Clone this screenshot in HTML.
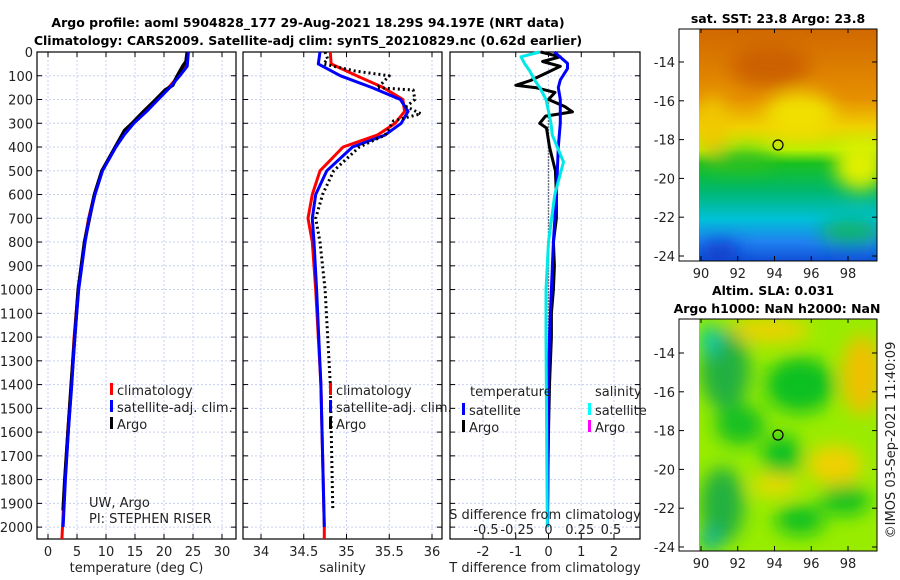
<!DOCTYPE html>
<html><head><meta charset="utf-8"><style>
html,body{margin:0;padding:0;background:#fff}
svg{display:block;font-family:"DejaVu Sans","Liberation Sans",sans-serif}
.t{font-size:13px;fill:#222}
.b{font-weight:bold;font-size:12.5px;fill:#000}
</style></head><body>
<svg id="c" width="900" height="580" viewBox="0 0 900 580">
<defs>
<filter id="bl" x="-50%" y="-50%" width="200%" height="200%"><feGaussianBlur stdDeviation="9"/></filter>
<linearGradient id="sst" x1="0" y1="0" x2="0" y2="1">
<stop offset="0" stop-color="#d06800"/><stop offset="0.3" stop-color="#e69000"/>
<stop offset="0.42" stop-color="#f0d000"/><stop offset="0.52" stop-color="#b8f000"/>
<stop offset="0.58" stop-color="#18c020"/><stop offset="0.7" stop-color="#00b870"/>
<stop offset="0.82" stop-color="#00c0d8"/><stop offset="0.92" stop-color="#2080f0"/>
<stop offset="1" stop-color="#1050d8"/></linearGradient>
<clipPath id="m1"><rect x="699" y="29" width="178" height="232"/></clipPath>
<clipPath id="m2"><rect x="699" y="319" width="178" height="232"/></clipPath>
</defs>
<text class="b" x="308" y="27" text-anchor="middle">Argo profile: aoml 5904828_177 29-Aug-2021 18.29S 94.197E (NRT data)</text>
<text class="b" x="308" y="45" text-anchor="middle">Climatology: CARS2009. Satellite-adj clim: synTS_20210829.nc (0.62d earlier)</text>
<g id="p1"></g>
<g id="p2"></g>
<g id="p3"></g>

<g>
<text class="b" x="778" y="23" text-anchor="middle" font-size="12">sat. SST: 23.8 Argo: 23.8</text>
<g clip-path="url(#m1)">
<rect x="699" y="29" width="178" height="232" fill="url(#sst)"/>
<g filter="url(#bl)">
<ellipse cx="800" cy="115" rx="35" ry="22" fill="#f0e000"/>
<ellipse cx="860" cy="165" rx="25" ry="25" fill="#e0f000"/>
<ellipse cx="712" cy="125" rx="14" ry="30" fill="#f0c800"/>
<ellipse cx="740" cy="160" rx="35" ry="10" fill="#30c020"/>
<ellipse cx="850" cy="232" rx="30" ry="12" fill="#10b860"/>
<ellipse cx="720" cy="252" rx="20" ry="10" fill="#0838c8"/>
<ellipse cx="850" cy="255" rx="25" ry="8" fill="#1050e0"/>
<ellipse cx="770" cy="65" rx="40" ry="22" fill="#cc6000"/>
</g></g>
<rect x="679" y="29" width="198" height="232" fill="none" stroke="#000"/>
<circle cx="778" cy="145" r="5" fill="none" stroke="#000" stroke-width="1.2"/>
</g>

<g>
<text class="b" x="773" y="295" text-anchor="middle" font-size="12">Altim. SLA: 0.031</text>
<text class="b" x="777" y="313" text-anchor="middle" font-size="12">Argo h1000: NaN h2000: NaN</text>
<g clip-path="url(#m2)">
<rect x="699" y="319" width="178" height="232" fill="#98ec00"/>
<g filter="url(#bl)">
<ellipse cx="770" cy="330" rx="40" ry="12" fill="#f0d000"/>
<ellipse cx="862" cy="375" rx="20" ry="40" fill="#f0c000"/>
<ellipse cx="835" cy="465" rx="28" ry="20" fill="#f0d000"/>
<ellipse cx="775" cy="485" rx="25" ry="10" fill="#f0d800"/>
<ellipse cx="725" cy="370" rx="25" ry="40" fill="#20b040"/>
<ellipse cx="800" cy="385" rx="35" ry="28" fill="#10c020"/>
<ellipse cx="740" cy="425" rx="25" ry="20" fill="#18c020"/>
<ellipse cx="782" cy="455" rx="20" ry="20" fill="#10c020"/>
<ellipse cx="845" cy="500" rx="25" ry="15" fill="#10c020"/>
<ellipse cx="722" cy="505" rx="22" ry="38" fill="#20b040"/>
<ellipse cx="800" cy="520" rx="25" ry="15" fill="#10c020"/>
<ellipse cx="710" cy="340" rx="10" ry="15" fill="#00c8b0"/>
<ellipse cx="710" cy="540" rx="10" ry="12" fill="#00b0a0"/>
</g></g>
<rect x="679" y="319" width="198" height="232" fill="none" stroke="#000"/>
<circle cx="778" cy="435" r="5" fill="none" stroke="#000" stroke-width="1.2"/>
</g>
<text class="t" transform="translate(895,440) rotate(-90)" text-anchor="middle" font-size="13">©IMOS 03-Sep-2021 11:40:09</text>
</svg>
<script>
// ---- data ----
const depthTicks=[0,100,200,300,400,500,600,700,800,900,1000,1100,1200,1300,1400,1500,1600,1700,1800,1900,2000];
const tTicks=[0,5,10,15,20,25,30];
const sTicks=[34,34.5,35,35.5,36];
const dTTicks=[-2,-1,0,1,2];
const dSTicks=[-0.5,-0.25,0,0.25,0.5];
const dSTickLabels=["-0.5","-0.25","0","0.25","0.5"];
const depthsT=[0,60,100,150,200,250,300,350,400,500,600,700,800,1000,1200,1400,1600,1800,2000,2050];
const tClim=[24,23.8,22.5,20.8,18.8,16.8,14.6,13,11.6,9.3,8,7,6.3,5.2,4.5,4,3.4,2.9,2.5,2.4];
const tSat=[24.2,24,22.7,21,19,17,14.8,13.1,11.7,9.4,8.1,7.1,6.4,5.3,4.6,4.1,3.5,3,2.6,2.6];
const depthsArgoT=[0,40,60,100,140,160,200,250,300,330,400,500,600,800,1000,1400,1800,1930];
const tArgo=[24,23.8,23.2,22.3,21.5,20.2,18.6,16.5,14.5,13.2,11.6,9.3,8,6.3,5.2,4,2.9,2.6];
const depthsS=[0,50,100,150,200,250,300,350,400,500,600,700,800,1000,1400,2000,2050];
const sClim=[34.81,34.82,35.12,35.43,35.66,35.68,35.57,35.36,34.96,34.69,34.6,34.55,34.6,34.64,34.7,34.74,34.74];
const sSat=[34.69,34.67,34.93,35.3,35.63,35.72,35.64,35.45,35.07,34.77,34.64,34.6,34.62,34.65,34.7,34.74,34.74];
const depthsArgoS=[0,30,50,80,100,130,150,160,200,230,260,290,350,400,500,600,700,800,1000,1400,1930];
const sArgo=[34.75,34.78,34.73,35.1,35.5,35.42,35.35,35.78,35.8,35.7,35.87,35.55,35.45,35.15,34.85,34.72,34.64,34.69,34.75,34.81,34.84];
const depthsDT=[0,20,40,60,90,120,140,150,170,200,230,252,270,300,320,400,500,600,700,800,900,1000,1100,1200,1400,1600,1920];
const dTArgo=[-0.24,0.36,-0.18,0.36,-0.09,-0.55,-1.0,-0.4,0.2,0,0.5,0.73,-0.09,-0.27,-0.06,0.03,0.21,0.24,0.24,0.15,0.18,0.15,0.09,0.09,0.03,0,-0.03];
const depthsDSat=[0,48,70,118,150,200,300,400,600,800,1000,1200,1400,2000];
const dTSat=[0.18,0.58,0.58,0.36,0.3,0.36,0.36,0.3,0.24,0.15,0.09,0.03,0,-0.03];
const depthsDSS=[0,20,50,80,120,150,200,300,350,463,600,800,1000,1200,2000];
const dSSat=[-0.07,-0.22,-0.19,-0.15,-0.11,-0.07,-0.02,0.02,0.03,0.12,0.05,0,-0.02,-0.02,-0.01];
const depthsDSA=[200,1930];
const dSArgo=[0,0];

const NS="http://www.w3.org/2000/svg";
const Y0=52, YB=539;
const y=d=>Y0+(d-0)*(YB-Y0)/2050;
function mk(tag,at,par,txt){const e=document.createElementNS(NS,tag);for(const k in at)e.setAttribute(k,at[k]);if(txt!==undefined)e.textContent=txt;par.appendChild(e);return e;}
function lin(a,b,c,d){return v=>c+(v-a)*(d-c)/(b-a);}
function panel(g,L,R,xs,ticks,labels,xlabel,leftLabels){
  const x=xs;
  for(const t of ticks){const l=mk('line',{x1:x(t),x2:x(t),y1:Y0,y2:YB,stroke:'#c8cff0','stroke-dasharray':'2,2','stroke-width':1},g);}
  for(const d of depthTicks){const l=mk('line',{x1:L,x2:R,y1:y(d),y2:y(d),stroke:'#c8cff0','stroke-dasharray':'2,2','stroke-width':1},g);
    mk('line',{x1:L,x2:L+5,y1:y(d),y2:y(d),stroke:'#000'},g);mk('line',{x1:R-5,x2:R,y1:y(d),y2:y(d),stroke:'#000'},g);
    if(leftLabels){const tx=mk('text',{x:L-4,y:y(d)+5,'text-anchor':'end',class:'t'},g,String(d));}}
  ticks.forEach((t,i)=>{mk('line',{x1:x(t),x2:x(t),y1:YB,y2:YB-5,stroke:'#000'},g);mk('line',{x1:x(t),x2:x(t),y1:Y0,y2:Y0+5,stroke:'#000'},g);
    const tx=mk('text',{x:x(t),y:556,'text-anchor':'middle',class:'t'},g,labels[i]);});
  const fr=mk('rect',{x:L,y:Y0,width:R-L,height:YB-Y0,fill:'none',stroke:'#000','stroke-width':1.2},g);
  const xl=mk('text',{x:(L+R)/2,y:572,'text-anchor':'middle',class:'t'},g,xlabel);
}
function line(g,xs,vals,deps,col,w,dash,name){
  const pts=vals.map((v,i)=>xs(v).toFixed(1)+','+y(deps[i]).toFixed(1)).join(' ');
  const p=mk('polyline',{points:pts,fill:'none',stroke:col,'stroke-width':w,'stroke-linejoin':'round'},g);
  if(dash)p.setAttribute('stroke-dasharray',dash);
  
  
}
function leg(g,x0,yy,col,txt){mk('rect',{x:x0,y:yy-9,width:3,height:12,fill:col},g);const t=mk('text',{x:x0+7,y:yy+3,class:'t'},g,txt);}

const g1=document.getElementById('p1');
const xT=lin(0,30,48,222);
panel(g1,37,236,xT,tTicks,tTicks.map(String),'temperature (deg C)',true);
line(g1,xT,tClim,depthsT,'#ff0000',3,null,'temperature-climatology-line');
line(g1,xT,tArgo,depthsArgoT,'#000',3.5,null,'temperature-argo-line');
line(g1,xT,tSat.slice(0,19),depthsT.slice(0,19),'#0000ff',3,null,'temperature-satellite-line');
leg(g1,110,392,'#ff0000','climatology');leg(g1,110,409,'#0000ff','satellite-adj. clim.');leg(g1,110,426,'#000','Argo');
mk('text',{x:89,y:507,class:'t','font-size':'11'},g1,'UW, Argo');mk('text',{x:89,y:523,class:'t','font-size':'11'},g1,'PI: STEPHEN RISER');
const g2=document.getElementById('p2');
const xS=lin(34,36,261,432);
panel(g2,243,442,xS,sTicks,['34','34.5','35','35.5','36'],'salinity',false);
line(g2,xS,sClim,depthsS,'#ff0000',3,null,'salinity-climatology-line');
line(g2,xS,sSat.slice(0,16),depthsS.slice(0,16),'#0000ff',3,null,'salinity-satellite-line');
line(g2,xS,sArgo,depthsArgoS,'#000',3,'2,3','salinity-argo-line');
leg(g2,329,392,'#ff0000','climatology');leg(g2,329,409,'#0000ff','satellite-adj. clim.');leg(g2,329,426,'#000','Argo');
const g3=document.getElementById('p3');
const xD=lin(-2,2,483,614);
const xDS=lin(-0.5,0.5,486,611);
panel(g3,450,640,xD,dTTicks,dTTicks.map(String),'T difference from climatology',false);
line(g3,xDS,dSArgo,depthsDSA,'#000',1.5,'1,2','salinity-diff-argo-line');
line(g3,xD,dTArgo,depthsDT,'#000',3,null,'temperature-diff-argo-line');
line(g3,xD,dTSat,depthsDSat,'#0000ff',3,null,'temperature-diff-satellite-line');
line(g3,xDS,dSSat,depthsDSS,'#00e8e8',3,null,'salinity-diff-satellite-line');
mk('text',{x:470,y:396,class:'t'},g3,'temperature');mk('text',{x:595,y:396,class:'t'},g3,'salinity');
leg(g3,462,412,'#0000ff','satellite');leg(g3,462,429,'#000','Argo');
leg(g3,588,412,'#00ffff','satellite');leg(g3,588,429,'#ff00ff','Argo');
mk('text',{x:545,y:519,class:'t','text-anchor':'middle'},g3,'S difference from climatology');
dSTicks.forEach((t,i)=>{const tx=mk('text',{x:xDS(t),y:534,class:'t','text-anchor':'middle'},g3,dSTickLabels[i]);});
const svg=document.getElementById('c');
const lonTicks=[90,92,94,96,98];
const latTicks=[-14,-16,-18,-20,-22,-24];
function mapAxes(top,latY){
  const lonX=lin(90,98,701,848);
  lonTicks.forEach(v=>{mk('line',{x1:lonX(v),x2:lonX(v),y1:top+232,y2:top+227,stroke:'#000'},svg);mk('line',{x1:lonX(v),x2:lonX(v),y1:top,y2:top+4,stroke:'#000'},svg);
    const t=mk('text',{x:lonX(v),y:top+249,'text-anchor':'middle',class:'t'},svg,String(v));});
  latTicks.forEach(v=>{mk('line',{x1:679,x2:684,y1:latY(v),y2:latY(v),stroke:'#000'},svg);mk('line',{x1:872,x2:877,y1:latY(v),y2:latY(v),stroke:'#000'},svg);
    const t=mk('text',{x:675,y:latY(v)+5,'text-anchor':'end',class:'t'},svg,String(v));});
}
mapAxes(29,lin(-14,-24,62,256));
mapAxes(319,lin(-14,-24,353,547));
</script>
</body></html>
